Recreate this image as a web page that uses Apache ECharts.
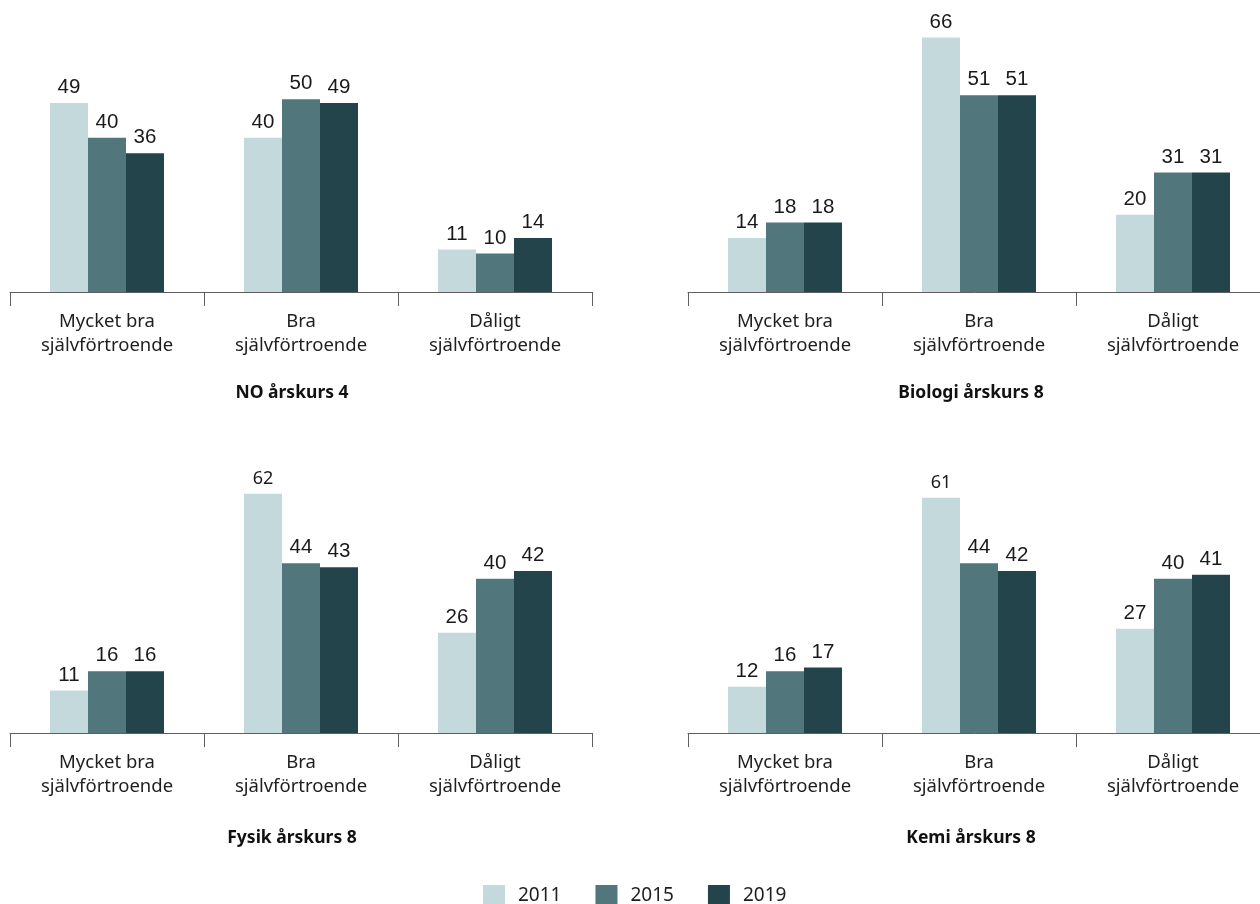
<!DOCTYPE html>
<html>
<head>
<meta charset="utf-8">
<script src="https://cdn.jsdelivr.net/npm/echarts@6/dist/echarts.min.js"></script>
<style>
  html, body { margin: 0; padding: 0; background: #fff; }
  #chart { width: 1260px; height: 904px; }
</style>
</head>
<body>
<div id="chart"></div>
<script>
// Categories and series
const categories = ['Mycket bra\nsjälvförtroende', 'Bra\nsjälvförtroende', 'Dåligt\nsjälvförtroende'];
const years = ['2011', '2015', '2019'];
const panelTitles = ['NO årskurs 4', 'Biologi årskurs 8', 'Fysik årskurs 8', 'Kemi årskurs 8'];

// Share of pupils (%) per confidence level, one array per year
const no4_2011 = [49, 40, 11];
const no4_2015 = [40, 50, 10];
const no4_2019 = [36, 49, 14];

const bio8_2011 = [14, 66, 20];
const bio8_2015 = [18, 51, 31];
const bio8_2019 = [18, 51, 31];

const fys8_2011 = [11, 62, 26];
const fys8_2015 = [16, 44, 40];
const fys8_2019 = [16, 43, 42];

const kem8_2011 = [12, 61, 27];
const kem8_2015 = [16, 44, 40];
const kem8_2019 = [17, 42, 41];

const panelData = [
  [no4_2011, no4_2015, no4_2019],
  [bio8_2011, bio8_2015, bio8_2019],
  [fys8_2011, fys8_2015, fys8_2019],
  [kem8_2011, kem8_2015, kem8_2019]
];

const colors = ['#c3d9db', '#51777d', '#23444b'];
const uiFont = '"Noto Sans", "Open Sans", sans-serif';
const numFont = '"Liberation Sans", Arial, sans-serif';

// Layout of the 2x2 panel grid (right column runs slightly past the page edge)
const colLeft = [10, 688];
const rowTop = [22, 463];
const gridW = 582, gridH = 270;
const titleX = [292, 971];
const titleY = [393, 838];

const grids = [], xAxes = [], yAxes = [], series = [], graphics = [];

panelData.forEach((sets, p) => {
  const col = p % 2, row = Math.floor(p / 2);
  grids.push({
    left: colLeft[col], top: rowTop[row], width: gridW, height: gridH,
    outerBoundsMode: 'none', containLabel: false
  });
  xAxes.push({
    type: 'category', gridIndex: p, data: categories,
    axisLine: { lineStyle: { color: '#5f5f5f', width: 1 } },
    axisTick: { show: true, alignWithLabel: false, length: 14, lineStyle: { color: '#5f5f5f' } },
    axisLabel: { color: '#1e1e1e', fontFamily: uiFont, fontSize: 18.5, lineHeight: 23.5, margin: 18 }
  });
  yAxes.push({ type: 'value', gridIndex: p, min: 0, max: 70, show: false, splitLine: { show: false } });
  sets.forEach((vals, s) => {
    // the tall 2011 "Bra" bars in the lower row carry a narrower label
    const data = vals.map((v, i) => (row === 1 && s === 0 && i === 1)
      ? { value: v, label: { fontFamily: uiFont, fontSize: 18, distance: 6 } }
      : v);
    series.push({
      type: 'bar', name: years[s], xAxisIndex: p, yAxisIndex: p,
      data: data, barWidth: 38, barGap: '0%',
      itemStyle: { color: colors[s] },
      label: {
        show: true, position: 'top', distance: 5,
        color: '#1a1a1a', fontFamily: numFont, fontSize: 20.5
      }
    });
  });
  graphics.push({
    type: 'text', x: titleX[col], y: titleY[row],
    style: {
      text: panelTitles[p], fill: '#111', font: 'bold 17.5px ' + uiFont,
      textAlign: 'center', textVerticalAlign: 'middle'
    }
  });
});

const chart = echarts.init(document.getElementById('chart'), null, { renderer: 'canvas' });
chart.setOption({
  animation: false,
  backgroundColor: '#fff',
  grid: grids,
  xAxis: xAxes,
  yAxis: yAxes,
  series: series,
  graphic: graphics,
  legend: {
    data: years, left: 478, top: 880,
    icon: 'rect', itemWidth: 22, itemHeight: 21, itemGap: 34,
    textStyle: { color: '#1e1e1e', fontFamily: uiFont, fontSize: 19, padding: [0, 0, 0, 8] }
  }
});
</script>
</body>
</html>
